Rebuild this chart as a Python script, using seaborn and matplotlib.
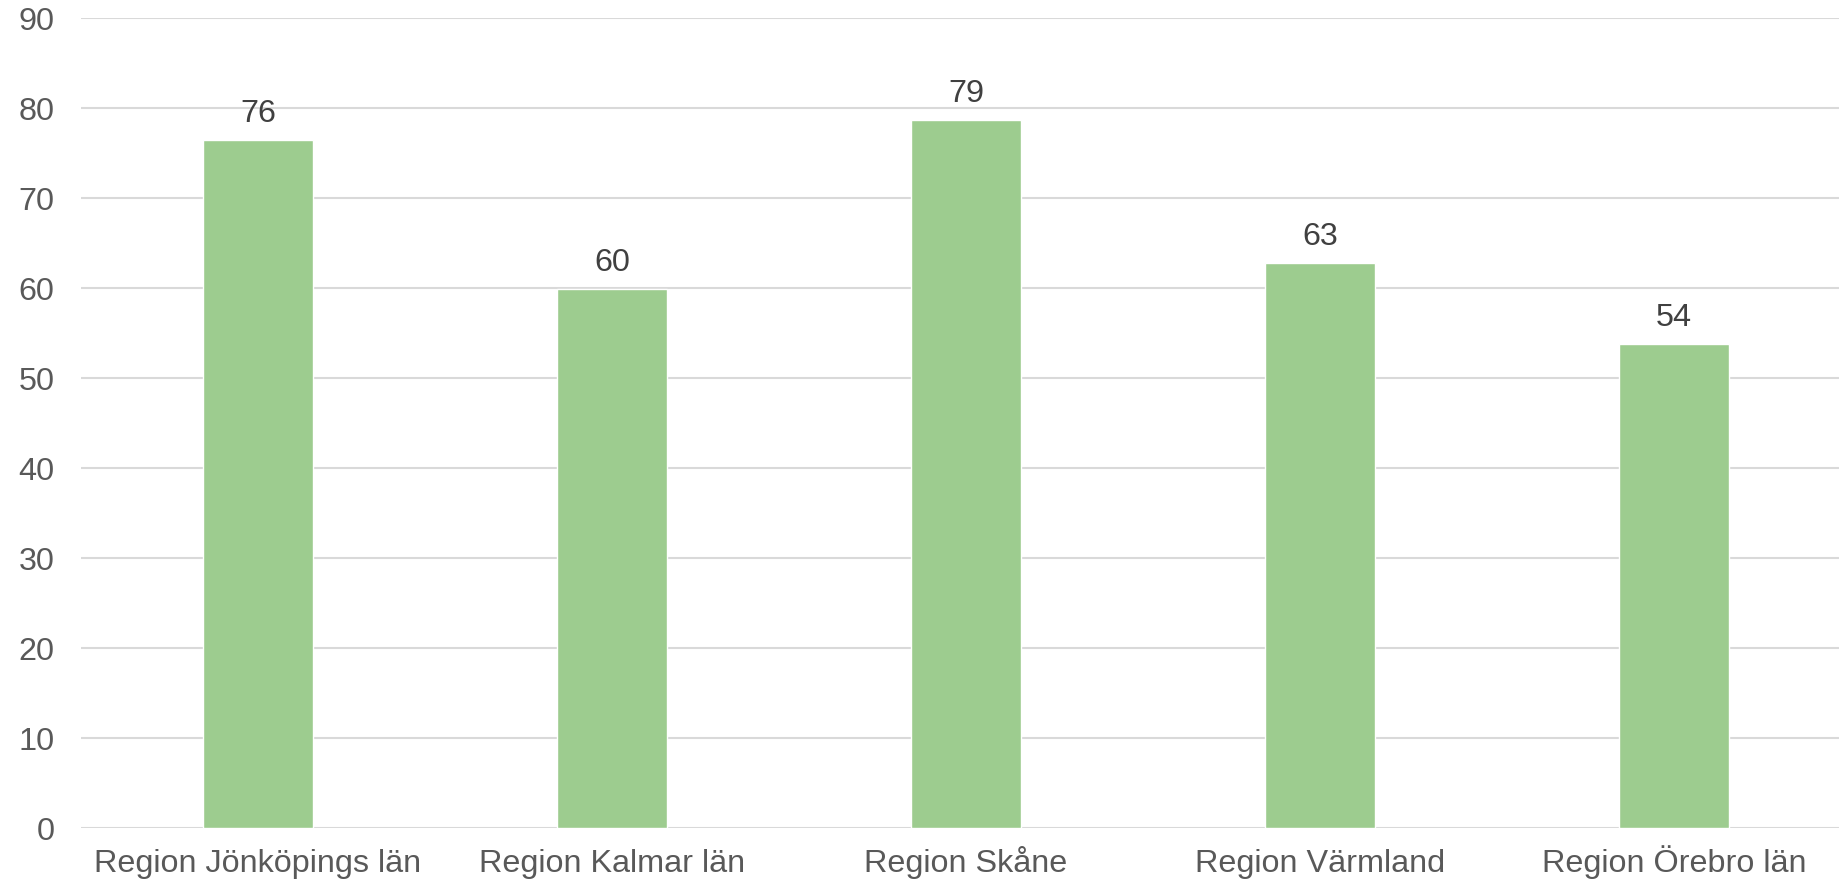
import matplotlib
matplotlib.use("Agg")
import matplotlib.pyplot as plt
import seaborn as sns
import pandas as pd

regions = ["Region Jönköpings län", "Region Kalmar län", "Region Skåne",
           "Region Värmland", "Region Örebro län"]
values = [76.4, 59.9, 78.7, 62.8, 53.8]
yticks = [0, 10, 20, 30, 40, 50, 60, 70, 80, 90]

sns.set_style("white")
plt.rcParams["font.family"] = ["Liberation Sans", "DejaVu Sans"]

df = pd.DataFrame({"region": regions, "value": values})

fig = plt.figure(figsize=(18.39, 8.84), dpi=100)
ax = fig.add_axes([81 / 1839, 1 - 828 / 884, 1 - 81 / 1839, 810 / 884])

sns.barplot(data=df, x="region", y="value", color="#9DCC8F", width=0.31,
            saturation=1, ax=ax, zorder=3)

ax.set_ylim(0, 90)
ax.set_yticks(yticks)
ax.set_xlim(-0.5, 4.466)
ax.yaxis.grid(True, color="#D9D9D9", linewidth=1.5, zorder=0)
ax.set_axisbelow(True)
for s in ax.spines.values():
    s.set_visible(False)
ax.tick_params(axis="y", length=0, pad=19, labelsize=23.3, labelcolor="#595959")
ax.tick_params(axis="x", length=0, pad=32, labelsize=23.3, labelcolor="#595959")
for lab in ax.get_xticklabels():
    lab.set_verticalalignment("baseline")
ax.set_xlabel("")
ax.set_ylabel("")

ax.bar_label(ax.containers[0], labels=[f"{v:.0f}" for v in values],
             padding=8, fontsize=23.3, color="#404040")

fig.savefig("out.png", dpi=100)
